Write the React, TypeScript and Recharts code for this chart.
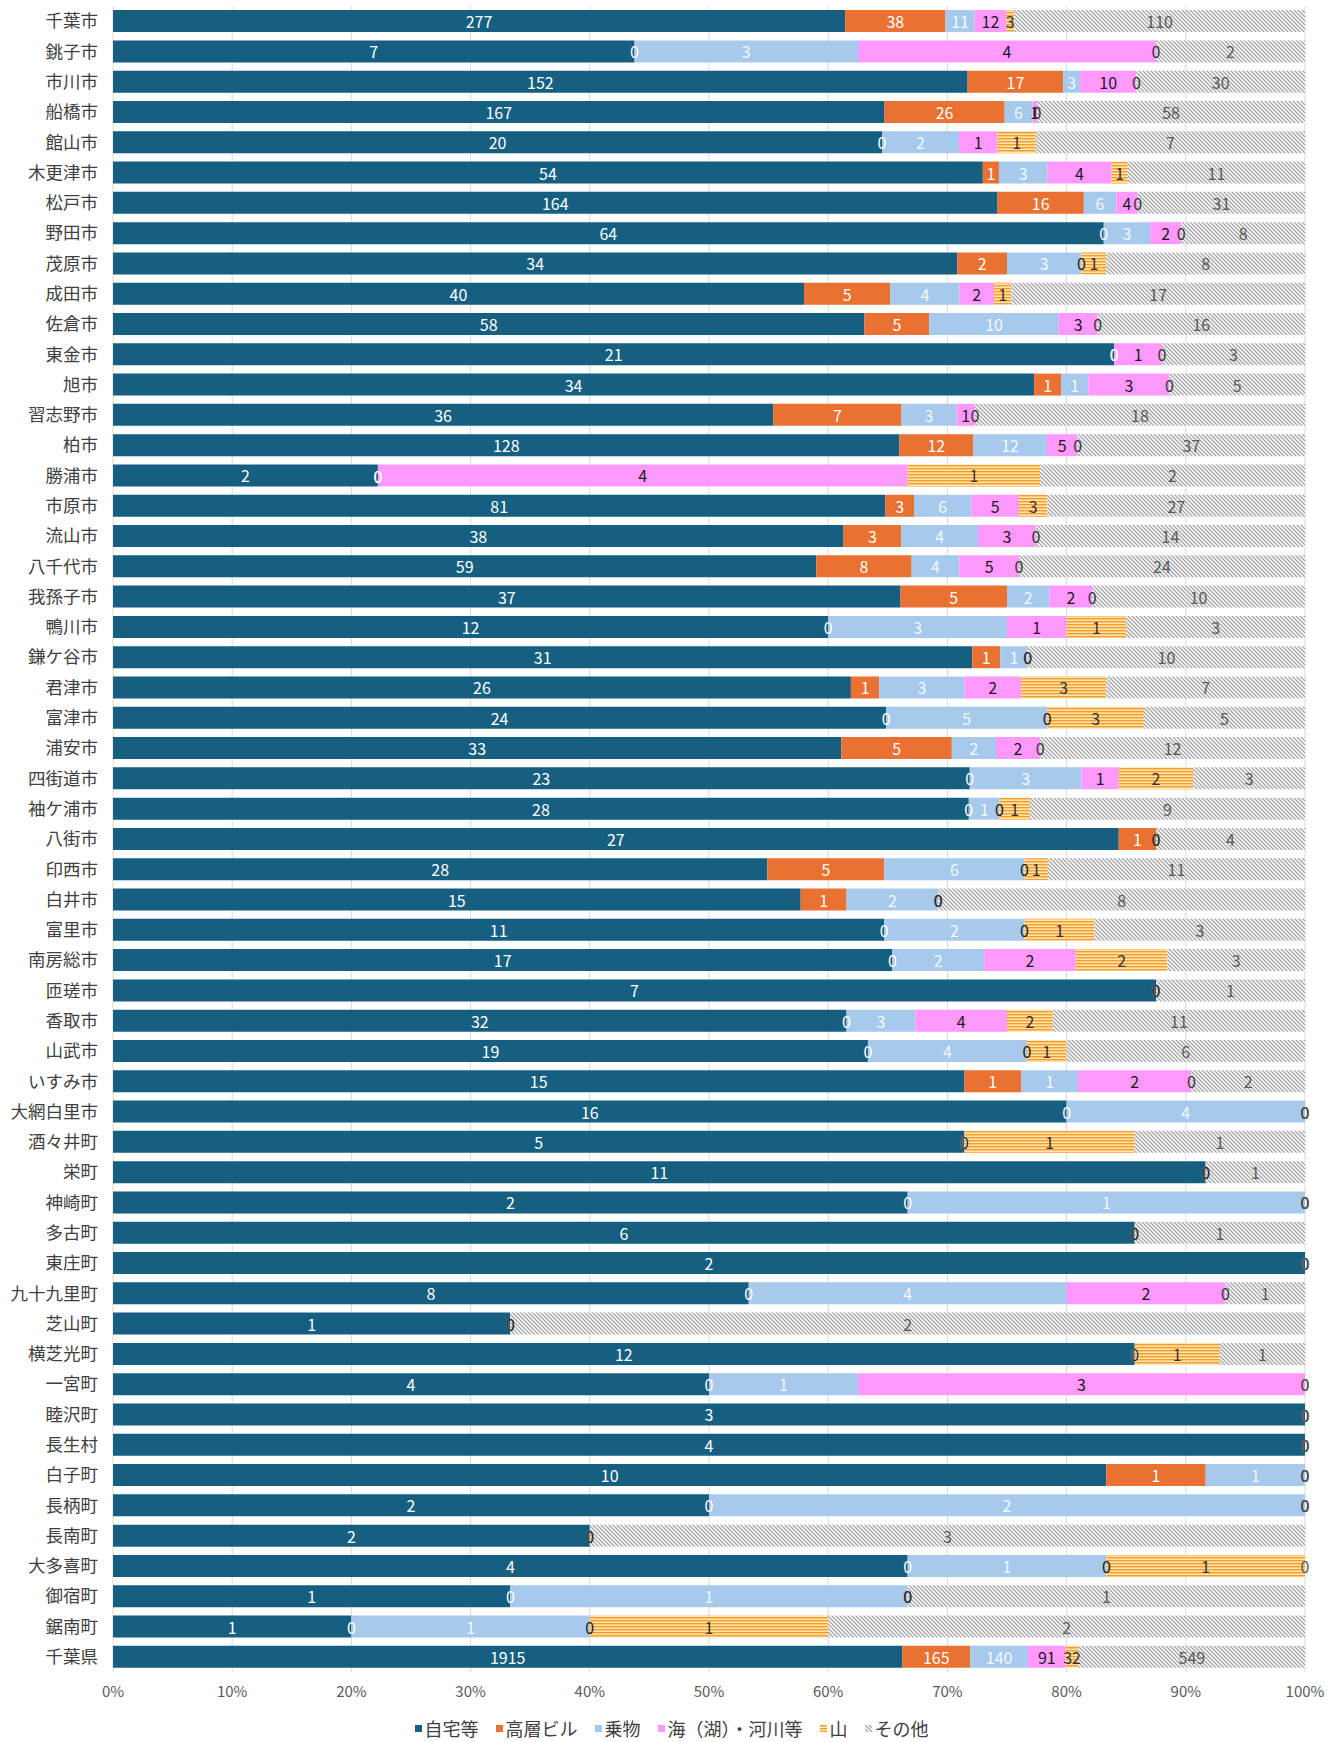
import React from 'react';
import { ComposedChart, Bar, Scatter, XAxis, YAxis, CartesianGrid, LabelList } from 'recharts';

// 市町村
const cities = [
  '千葉市', '銚子市', '市川市', '船橋市', '館山市', '木更津市', '松戸市', '野田市', '茂原市', '成田市',
  '佐倉市', '東金市', '旭市', '習志野市', '柏市', '勝浦市', '市原市', '流山市', '八千代市', '我孫子市',
  '鴨川市', '鎌ケ谷市', '君津市', '富津市', '浦安市', '四街道市', '袖ケ浦市', '八街市', '印西市', '白井市',
  '富里市', '南房総市', '匝瑳市', '香取市', '山武市', 'いすみ市', '大網白里市', '酒々井町', '栄町', '神崎町',
  '多古町', '東庄町', '九十九里町', '芝山町', '横芝光町', '一宮町', '睦沢町', '長生村', '白子町', '長柄町',
  '長南町', '大多喜町', '御宿町', '鋸南町', '千葉県',
];

// 場所別の件数
const jitaku = [
  277, 7, 152, 167, 20, 54, 164, 64, 34, 40,
  58, 21, 34, 36, 128, 2, 81, 38, 59, 37,
  12, 31, 26, 24, 33, 23, 28, 27, 28, 15,
  11, 17, 7, 32, 19, 15, 16, 5, 11, 2,
  6, 2, 8, 1, 12, 4, 3, 4, 10, 2,
  2, 4, 1, 1, 1915,
];
const kousou = [
  38, 0, 17, 26, 0, 1, 16, 0, 2, 5,
  5, 0, 1, 7, 12, 0, 3, 3, 8, 5,
  0, 1, 1, 0, 5, 0, 0, 1, 5, 1,
  0, 0, 0, 0, 0, 1, 0, 0, 0, 0,
  0, 0, 0, 0, 0, 0, 0, 0, 1, 0,
  0, 0, 0, 0, 165,
];
const norimono = [
  11, 3, 3, 6, 2, 3, 6, 3, 3, 4,
  10, 0, 1, 3, 12, 0, 6, 4, 4, 2,
  3, 1, 3, 5, 2, 3, 1, 0, 6, 2,
  2, 2, 0, 3, 4, 1, 4, 0, 0, 1,
  0, 0, 4, 0, 0, 1, 0, 0, 1, 2,
  0, 1, 1, 1, 140,
];
const umi = [
  12, 4, 10, 1, 1, 4, 4, 2, 0, 2,
  3, 1, 3, 1, 5, 4, 5, 3, 5, 2,
  1, 0, 2, 0, 2, 1, 0, 0, 0, 0,
  0, 2, 0, 4, 0, 2, 0, 0, 0, 0,
  0, 0, 2, 0, 0, 3, 0, 0, 0, 0,
  0, 0, 0, 0, 91,
];
const yama = [
  3, 0, 0, 0, 1, 1, 0, 0, 1, 1,
  0, 0, 0, 0, 0, 1, 3, 0, 0, 0,
  1, 0, 3, 3, 0, 2, 1, 0, 1, 0,
  1, 2, 0, 2, 1, 0, 0, 1, 0, 0,
  0, 0, 0, 0, 1, 0, 0, 0, 0, 0,
  0, 1, 0, 1, 32,
];
const sonota = [
  110, 2, 30, 58, 7, 11, 31, 8, 8, 17,
  16, 3, 5, 18, 37, 2, 27, 14, 24, 10,
  3, 10, 7, 5, 12, 3, 9, 4, 11, 8,
  3, 3, 1, 11, 6, 2, 0, 1, 1, 0,
  1, 0, 1, 2, 1, 0, 0, 0, 0, 0,
  3, 0, 1, 2, 549,
];

const xTicks = [0, 0.1, 0.2, 0.3, 0.4, 0.5, 0.6, 0.7, 0.8, 0.9, 1];

const SERIES = [
  { key: 'jitaku', name: '自宅等', fill: '#165F81', label: '#FFFFFF' },
  { key: 'kousou', name: '高層ビル', fill: '#E97132', label: '#FFFFFF' },
  { key: 'norimono', name: '乗物', fill: '#A6C9EC', label: '#F4F8FC' },
  { key: 'umi', name: '海（湖）・河川等', fill: '#FF99FF', label: '#1A1A1A' },
  { key: 'yama', name: '山', fill: 'url(#yamaPat)', label: '#333333' },
  { key: 'sonota', name: 'その他', fill: 'url(#hatchPat)', label: '#595959' },
];

const columns: Record<string, number[]> = { jitaku, kousou, norimono, umi, yama, sonota };

// 件数の表と、0件ラベル用の累積比率
const data = cities.map((name, i) => {
  const row: Record<string, any> = { name };
  const total = SERIES.reduce((sum, s) => sum + columns[s.key][i], 0);
  let acc = 0;
  SERIES.forEach((s) => {
    const v = columns[s.key][i];
    row[s.key] = v;
    row[`${s.key}_pos`] = acc / total;
    acc += v;
  });
  return row;
});

const numFont = "'Liberation Sans Narrow', 'Noto Sans CJK JP', sans-serif";
const jpFont = "'Noto Sans CJK JP', sans-serif";

function makeLabel(color: string) {
  return (p: any) => {
    const x = Number(p.x) + Number(p.width || 0) / 2;
    const y = Number(p.y) + Number(p.height || 0) / 2;
    if (!isFinite(x) || !isFinite(y)) return null;
    return (
      <text x={x} y={y} fill={color} fontSize={16} fontFamily={numFont} textAnchor="middle" dominantBaseline="central">
        {p.value}
      </text>
    );
  };
}

function makeZero(key: string, color: string) {
  return (p: any) => {
    if (!p.payload || p.payload[key] !== 0) return <g />;
    return (
      <text x={p.cx} y={p.cy} fill={color} fontSize={16} fontFamily={numFont} textAnchor="middle" dominantBaseline="central">
        0
      </text>
    );
  };
}

function Legend2() {
  return (
    <div
      style={{
        position: 'absolute',
        top: 1716,
        left: 0,
        width: 1343,
        display: 'flex',
        justifyContent: 'center',
        gap: 17,
        fontFamily: jpFont,
        fontSize: 18,
        color: '#404040',
        lineHeight: '24px',
      }}
    >
      {SERIES.map((s) => (
        <span key={s.key} style={{ display: 'flex', alignItems: 'center', gap: 3 }}>
          <svg width={7} height={7}>
            <rect width={7} height={7} fill={s.fill} />
          </svg>
          {s.name}
        </span>
      ))}
    </div>
  );
}

export default function App() {
  return (
    <div style={{ position: 'relative', width: 1343, height: 1742, background: '#fff' }}>
      <style>{`body{margin:0}`}</style>
      <ComposedChart
        width={1343}
        height={1742}
        data={data}
        layout="vertical"
        stackOffset="expand"
        barCategoryGap="13.5%"
        margin={{ top: 6, right: 38, bottom: 40, left: 0 }}
      >
        <defs>
          <pattern id="yamaPat" width="4" height="3" patternUnits="userSpaceOnUse">
            <rect width="4" height="3" fill="#FFE4A8" />
            <rect width="4" height="1.4" fill="#F29B2E" />
          </pattern>
          <pattern id="hatchPat" width="4" height="4" patternUnits="userSpaceOnUse">
            <rect width="4" height="4" fill="#FFFFFF" />
            <path d="M-1,-1 L5,5 M3,-1 L5,1 M-1,3 L1,5" stroke="#A6A6A6" strokeWidth="1.3" />
          </pattern>
        </defs>
        <CartesianGrid horizontal={false} stroke="#D9D9D9" />
        <XAxis
          type="number"
          domain={[0, 1]}
          ticks={xTicks}
          tickFormatter={(v: number) => `${Math.round(v * 100)}%`}
          tickLine={false}
          axisLine={false}
          tickMargin={8}
          height={30}
          tick={{ fill: '#595959', fontSize: 15, fontFamily: numFont }}
        />
        <YAxis
          type="category"
          dataKey="name"
          width={113}
          interval={0}
          tickLine={false}
          axisLine={false}
          tickMargin={9}
          tick={{ fill: '#404040', fontSize: 17.5, fontFamily: jpFont }}
        />
        {SERIES.map((s) => (
          <Bar key={s.key} dataKey={s.key} name={s.name} stackId="a" fill={s.fill} isAnimationActive={false}>
            <LabelList dataKey={s.key} content={makeLabel(s.label)} />
          </Bar>
        ))}
        {SERIES.slice(1).map((s) => (
          <Scatter
            key={`${s.key}_zero`}
            dataKey={`${s.key}_pos`}
            isAnimationActive={false}
            shape={makeZero(s.key, s.label === '#F4F8FC' ? '#FFFFFF' : s.label)}
            legendType="none"
          />
        ))}
      </ComposedChart>
      <Legend2 />
    </div>
  );
}
